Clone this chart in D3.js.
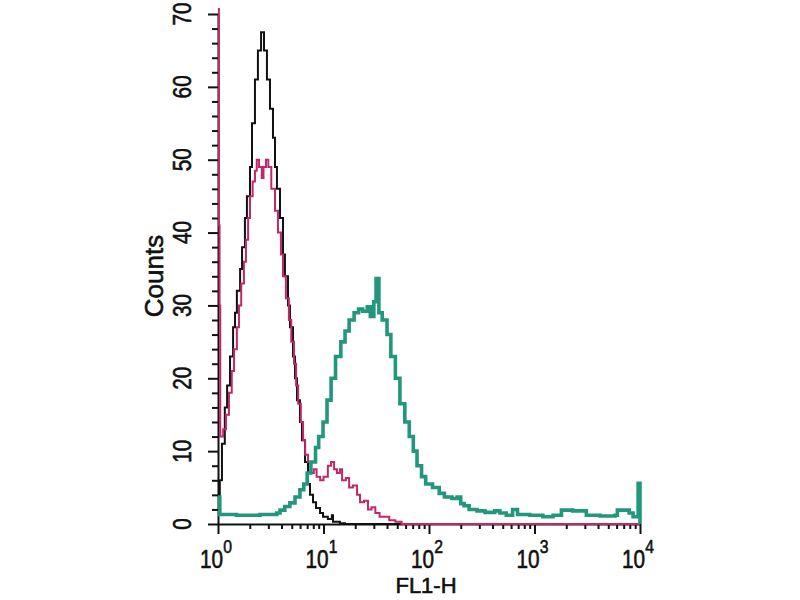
<!DOCTYPE html>
<html>
<head>
<meta charset="utf-8">
<script src="https://cdn.jsdelivr.net/npm/d3@7"></script>
<style>
  body { margin: 0; background: white; }
</style>
</head>
<body>
<script>
// histogram data: [FL1-H channel (bin start), counts]
const controlHist = [
	[1.00, 3], [1.04, 6], [1.09, 11], [1.16, 16], [1.22, 19], [1.30, 23], [1.39, 27],
	[1.45, 29], [1.51, 32], [1.62, 35], [1.69, 38], [1.80, 42], [1.88, 45], [2.01, 49],
	[2.10, 55], [2.24, 61], [2.39, 65], [2.56, 67.5], [2.73, 65], [2.91, 61], [3.11, 57],
	[3.32, 53], [3.47, 49], [3.62, 46], [3.87, 42], [4.13, 37], [4.31, 34], [4.61, 30],
	[4.81, 27], [5.14, 23], [5.37, 20], [5.61, 17], [5.98, 14], [6.25, 11.5], [6.68, 8.5],
	[7.13, 5.5], [7.45, 4], [7.95, 3], [8.49, 2.2], [9.27, 1.5], [9.89, 1], [11.0, 0.7],
	[12.0, 1.2], [12.3, 0.3], [14.3, 0.1], [16.0, 0], [10000, 0]
];

const stainedHist = [
	[1.00, 78], [1.02, 41], [1.035, 30], [1.05, 12], [1.12, 13], [1.19, 15], [1.27, 18],
	[1.35, 21], [1.42, 24], [1.51, 27], [1.58, 30], [1.66, 33], [1.76, 36], [1.84, 39],
	[1.93, 42], [2.01, 45], [2.13, 47], [2.24, 48.5], [2.33, 50], [2.45, 49], [2.60, 47.5],
	[2.70, 49], [2.85, 50], [3.00, 49], [3.20, 46], [3.47, 43], [3.70, 40], [3.95, 37],
	[4.13, 34], [4.40, 31], [4.70, 28], [4.95, 25], [5.25, 22], [5.50, 19], [5.75, 16.5],
	[6.10, 14], [6.40, 11.5], [6.70, 9.5], [7.13, 8.5], [7.60, 7], [8.10, 7.5], [8.60, 6.5],
	[9.30, 6], [10.0, 6.5], [11.0, 8], [11.8, 8.5], [12.6, 7.5], [13.4, 7], [14.3, 7.5],
	[15.0, 6], [16.3, 6.3], [17.5, 5], [19.0, 5.3], [20.8, 4], [22.2, 3], [24.2, 3.2],
	[26.4, 2], [28.5, 2.3], [31, 1.5], [34, 1], [38, 1], [42, 0.5], [48, 0.3], [55, 0],
	[10000, 0]
];

const antibodyHist = [
	[1.00, 3.7], [1.04, 1.3], [1.5, 1.2], [2.5, 1.3], [3.6, 1.5], [3.87, 1.9], [4.3, 2.4],
	[4.8, 2.9], [5.37, 3.7], [5.98, 4.7], [6.5, 5.5], [7.0, 7], [7.6, 8.5], [8.4, 10.5],
	[9.0, 12], [9.9, 14], [10.8, 17], [11.8, 20], [13.0, 23], [14.6, 25], [16.0, 26.5],
	[17.5, 28], [19.5, 29], [21.5, 29.5], [23.5, 29.2], [26.0, 29.8], [27.8, 28.5],
	[30.0, 30.5], [31.5, 33.7], [33.5, 29], [36, 28], [40, 26], [43.5, 23], [48, 20],
	[53, 16.5], [59, 14], [65, 12], [71, 10], [77, 8], [85, 6.5], [93, 5.5], [108, 5],
	[125, 4.2], [140, 3.7], [165, 3.5], [185, 3.7], [200, 2.8], [215, 2.5], [240, 2.0],
	[285, 1.8], [340, 1.6], [420, 1.8], [470, 1.5], [540, 1.2], [620, 2.0], [690, 1.3],
	[900, 1.2], [1200, 1.0], [1500, 1.2], [1800, 1.9], [2300, 1.8], [3100, 1.2],
	[4200, 1.1], [5800, 1.2], [6100, 1.9], [7900, 1.5], [8600, 1.0], [9600, 5.6], [10000, 0]
];

const xDecades = [1, 10, 100, 1000, 10000];
const xExponents = ["0", "1", "2", "3", "4"];
const yMajor = [0, 10, 20, 30, 40, 50, 60, 70];
const yMinor = [2, 4, 6, 8, 12, 14, 16, 18, 22, 24, 26, 28, 32, 34, 36, 38,
	42, 44, 46, 48, 52, 54, 56, 58, 62, 64, 66, 68];

const width = 800,
	height = 600,
	marginLeft = 218,
	plotRight = 640,
	plotTop = 14,
	plotBottom = 524;

const x = d3.scaleLog().domain([1, 10000]).range([marginLeft, plotRight]);
const y = d3.scaleLinear().domain([0, 70]).range([plotBottom, plotTop]);

const svg = d3.select("body")
	.append("svg")
	.attr("width", width)
	.attr("height", height)
	.attr("font-family", "Liberation Sans, Arial, sans-serif")
	.style("background-color", "white");

svg.append("clipPath")
	.attr("id", "plot")
	.append("rect")
	.attr("x", marginLeft - 1)
	.attr("y", 8)
	.attr("width", plotRight - marginLeft + 3)
	.attr("height", plotBottom - 8 + 2);

const line = d3.line()
	.x(d => x(d[0]))
	.y(d => y(d[1]))
	.curve(d3.curveStepAfter);

const series = [
	{ data: controlHist, color: "#111111", w: 2 },
	{ data: stainedHist, color: "#c0286a", w: 2 },
	{ data: antibodyHist, color: "#22977c", w: 3.6 }
];

// log minor ticks 2..9 in every decade
const xMinor = [];
xDecades.slice(0, -1).forEach(d => {
	for (let k = 2; k <= 9; k++) xMinor.push(d * k);
});

function styleAxis(g) {
	g.selectAll("line").attr("stroke", "#111").attr("stroke-width", 2);
	g.select(".domain").attr("stroke", "#111").attr("stroke-width", 2);
}

svg.append("g")
	.attr("transform", `translate(0,${plotBottom})`)
	.call(d3.axisBottom(x).tickValues(xDecades).tickSize(10).tickSizeOuter(0).tickFormat(""))
	.call(styleAxis);
svg.append("g")
	.attr("transform", `translate(0,${plotBottom})`)
	.call(d3.axisBottom(x).tickValues(xMinor).tickSize(5).tickFormat(""))
	.call(g => g.select(".domain").remove())
	.call(styleAxis);

svg.append("g")
	.attr("transform", `translate(${marginLeft},0)`)
	.call(d3.axisLeft(y).tickValues(yMajor).tickSize(10).tickSizeOuter(0).tickFormat(""))
	.call(styleAxis);
svg.append("g")
	.attr("transform", `translate(${marginLeft},0)`)
	.call(d3.axisLeft(y).tickValues(yMinor).tickSize(6).tickFormat(""))
	.call(g => g.select(".domain").remove())
	.call(styleAxis);

svg.append("g")
	.attr("clip-path", "url(#plot)")
	.selectAll("path")
	.data(series)
	.enter().append("path")
	.attr("d", d => line(d.data))
	.attr("fill", "none")
	.attr("stroke", d => d.color)
	.attr("stroke-width", d => d.w)
	.attr("stroke-linejoin", "miter");

// all text a little heavier, the export looks close to semi-bold
const textG = svg.append("g")
	.attr("fill", "#111")
	.attr("stroke", "#111")
	.attr("stroke-width", 0.6);

// y tick labels, rotated
textG.selectAll(".ylab")
	.data(yMajor)
	.enter().append("text")
	.attr("transform", d => `translate(191,${y(d)}) rotate(-90) scale(0.83,1)`)
	.attr("text-anchor", "middle")
	.attr("font-size", 25)
	.text(d => d);

// x tick labels as 10 with superscript exponent
const xl = textG.selectAll(".xlab")
	.data(xDecades)
	.enter().append("text")
	.attr("transform", d => `translate(${x(d) - 2},568) scale(0.83,1)`)
	.attr("text-anchor", "middle")
	.attr("font-size", 25);
xl.append("tspan").text("10");
xl.append("tspan")
	.attr("dy", -15)
	.attr("font-size", 19)
	.text((d, i) => xExponents[i]);

textG.append("text")
	.attr("x", 426)
	.attr("y", 593)
	.attr("text-anchor", "middle")
	.attr("font-size", 22)
	.text("FL1-H");

textG.append("text")
	.attr("transform", "translate(163,276) rotate(-90)")
	.attr("text-anchor", "middle")
	.attr("font-size", 26)
	.text("Counts");
</script>
</body>
</html>
